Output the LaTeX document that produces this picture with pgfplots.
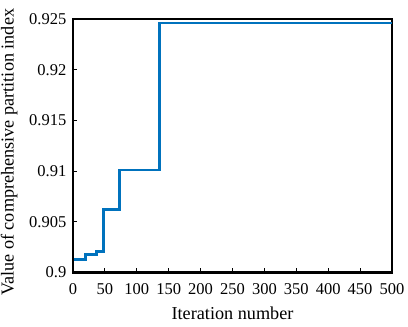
\documentclass[border=0pt]{standalone}
\usepackage{pgfplots}
\pgfplotsset{compat=1.18}
\usepackage{fontspec}
\setmainfont{Liberation Serif}
\definecolor{mblue}{RGB}{0,114,189}
\begin{document}
\fontsize{16.5}{19}\selectfont
\begin{tikzpicture}[x=1pt,y=1pt]
\path[use as bounding box] (0,0) rectangle (408,327);
\begin{axis}[
    at={(73pt,54.5pt)},
    anchor=south west,
    scale only axis,
    width=319pt,
    height=253.5pt,
    xmin=0, xmax=500,
    ymin=0.9, ymax=0.925,
    xtick={0,50,...,500},
    ytick={0.9,0.905,0.91,0.915,0.92,0.925},
    tick pos=left,
    tick align=inside,
    major tick length=4pt,
    axis line style={line width=2.6pt},
    every tick/.style={black, line width=1pt},
    /pgf/number format/assume math mode=true,
    tick label style={font=\fontsize{16.5}{19}\selectfont\rmfamily},
    yticklabel style={/pgf/number format/fixed, /pgf/number format/precision=3, xshift=-1pt},
    xticklabel style={/pgf/number format/1000 sep={}, yshift=-5pt},
    label style={font=\fontsize{18.2}{21}\selectfont\rmfamily},
    xlabel={Iteration number},
    ylabel={Value of comprehensive partition index},
    xlabel style={at={(axis description cs:0.5,-0.16)}, anchor=center},
    ylabel style={at={(axis description cs:-0.2,0.474)}, anchor=center},
]
\addplot[const plot, mblue, line width=2.6pt] coordinates {
    (1, 0.9013)
    (20, 0.9018)
    (37, 0.9021)
    (48, 0.9062)
    (73, 0.9101)
    (136, 0.9246)
    (500, 0.9246)
};
\end{axis}
\end{tikzpicture}
\end{document}
